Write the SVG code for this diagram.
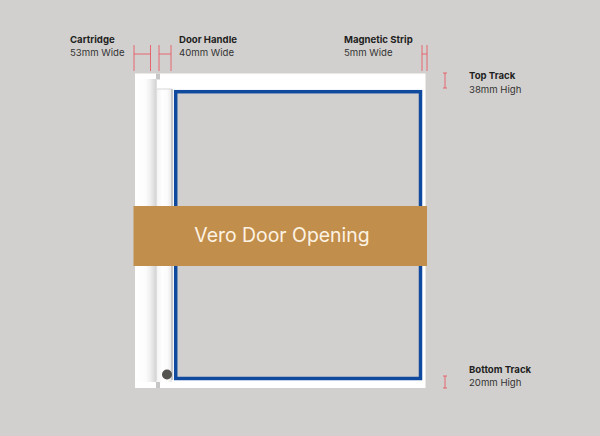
<svg xmlns="http://www.w3.org/2000/svg" width="600" height="436" viewBox="0 0 600 436">
<defs><linearGradient id="c" x1="0" x2="1" y1="0" y2="0"><stop offset="0" stop-color="#fff"/><stop offset="0.5" stop-color="#fcfcfc"/><stop offset="0.72" stop-color="#f0f0f0"/><stop offset="1" stop-color="#d4d4d4"/></linearGradient>
<linearGradient id="d" x1="0" x2="1" y1="0" y2="0"><stop offset="0" stop-color="#f3f3f3"/><stop offset="0.35" stop-color="#fff"/><stop offset="0.7" stop-color="#fbfbfb"/><stop offset="1" stop-color="#e6e6e6"/></linearGradient></defs>
<style>
.t{font-family:"Inter","Noto Sans",sans-serif;font-size:9.600px;fill:#333}
.b{font-weight:700;fill:#1f1f1f}
.r{stroke:#e8525e;stroke-width:1;fill:none;opacity:.85}
</style>
<rect width="600" height="436" fill="#d2d0ce"/>
<g id="frame">
<rect x="135" y="73.500" width="290.500" height="314.500" fill="#fff"/>
<rect x="176" y="92" width="244" height="286" fill="#d2d0ce"/>
<rect x="135" y="79" width="21" height="303" fill="url(#c)"/>
<rect x="156" y="73.500" width="4" height="6" fill="#c6c6c6"/>
<rect x="156" y="382" width="4" height="6" fill="#c6c6c6"/>
<rect x="156" y="79.500" width="1" height="302" fill="#dedede"/>
<rect x="157" y="89" width="15" height="293" fill="url(#d)"/>
<rect x="157" y="88.500" width="15" height="1" fill="#d8d8d8"/>
<rect x="171" y="89" width="2" height="291" fill="#c8c8c8"/>
</g>
<g id="door-opening">
<rect x="175.700" y="91.700" width="244.800" height="286.800" fill="none" stroke="#0f4a9e" stroke-width="3.500"/>
</g>
<g id="handle"><circle cx="167" cy="374.500" r="5" fill="#55534f"/></g>
<g id="banner">
<rect x="133.500" y="206" width="293.500" height="60" fill="#c28e4c"/>
<text x="282" y="242" text-anchor="middle" font-family="Inter,'Noto Sans',sans-serif" font-size="19.400" fill="#fdf3e3">Vero Door Opening</text>
</g>
<g id="connectors">
<path class="r" d="M134 45V71M150.500 45V71M134 54H150.500"/>
<path class="r" d="M159 45V71M171 45V71M159 54H171"/>
<path class="r" d="M422 45V71M427 45V71M422 54H427"/>
<path class="r" d="M445 73V88M443 73H447M443 88H447"/>
<path class="r" d="M445 376V388M443 376H447M443 388H447"/>
</g>
<g id="label-cartridge"><text class="t b" x="70" y="43">Cartridge</text><text class="t" x="70" y="56">53mm Wide</text></g>
<g id="label-handle"><text class="t b" x="179" y="43">Door Handle</text><text class="t" x="179" y="56">40mm Wide</text></g>
<g id="label-strip"><text class="t b" x="344" y="43">Magnetic Strip</text><text class="t" x="344" y="56">5mm Wide</text></g>
<g id="label-top"><text class="t b" x="469" y="79">Top Track</text><text class="t" x="469" y="93">38mm High</text></g>
<g id="label-bottom"><text class="t b" x="469" y="373">Bottom Track</text><text class="t" x="469" y="386">20mm High</text></g>
</svg>
